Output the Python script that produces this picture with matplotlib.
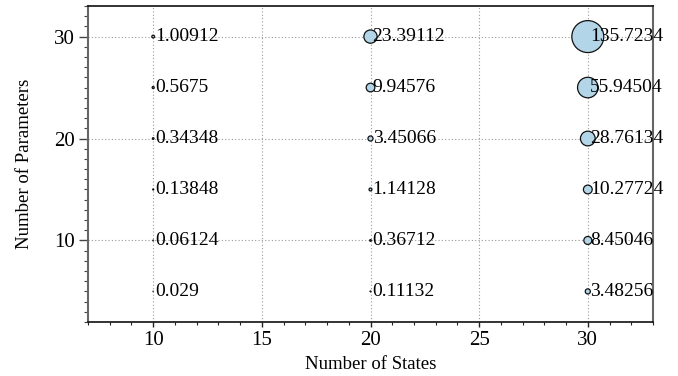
import matplotlib
matplotlib.use("Agg")
import matplotlib.pyplot as plt
from matplotlib.ticker import MultipleLocator

plt.rcParams['font.family'] = ['Liberation Serif', 'DejaVu Serif']

states = [10, 10, 10, 10, 10, 10, 20, 20, 20, 20, 20, 20, 30, 30, 30, 30, 30, 30]
params = [30, 25, 20, 15, 10, 5, 30, 25, 20, 15, 10, 5, 30, 25, 20, 15, 10, 5]
times = [1.00912, 0.5675, 0.34348, 0.13848, 0.06124, 0.029,
         23.39112, 9.94576, 3.45066, 1.14128, 0.36712, 0.11132,
         135.7234, 55.94504, 28.76134, 10.27724, 8.45046, 3.48256]
labels = ["1.00912", "0.5675", "0.34348", "0.13848", "0.06124", "0.029",
          "23.39112", "9.94576", "3.45066", "1.14128", "0.36712", "0.11132",
          "135.7234", "55.94504", "28.76134", "10.27724", "8.45046", "3.48256"]

fig = plt.figure(figsize=(6.78, 3.76), dpi=100)
ax = fig.add_axes([88/678, 1 - 322/376, (653-88)/678, (322-6)/376])

ax.scatter(states, params, s=[t * 3.9 for t in times], color='#b3d5e8',
           edgecolor='#111111', linewidth=0.9, zorder=3)
for x, y, lab in zip(states, params, labels):
    ax.annotate(lab, (x, y), xytext=(1.5, 0), textcoords='offset points',
                ha='left', va='center', fontsize=14, zorder=4)

ax.set_xlim(7, 33)
ax.set_ylim(2, 33)
ax.xaxis.set_major_locator(MultipleLocator(5))
ax.xaxis.set_minor_locator(MultipleLocator(1))
ax.yaxis.set_major_locator(MultipleLocator(10))
ax.yaxis.set_minor_locator(MultipleLocator(1))
ax.grid(True, which='major', linestyle=(0, (1, 2)), color='#999999', linewidth=0.8)
ax.set_axisbelow(True)

ax.tick_params(axis='y', which='major', direction='out', length=6.5, width=1, labelsize=15,
               color='#444444', pad=3)
ax.tick_params(axis='y', which='minor', direction='out', length=3, width=0.8, color='#444444')
ax.tick_params(axis='x', which='major', direction='out', length=3.6, width=1, labelsize=15,
               color='#222222', pad=3)
ax.tick_params(axis='x', which='minor', direction='out', length=2.2, width=0.8, color='#222222')
for side in ['left', 'right']:
    ax.spines[side].set_color('#666666')
    ax.spines[side].set_linewidth(1.5)
for side in ['top', 'bottom']:
    ax.spines[side].set_color('#111111')
    ax.spines[side].set_linewidth(1.2)

ax.set_xlabel('Number of States', fontsize=13.5, labelpad=4)
ax.set_ylabel('Number of Parameters', fontsize=13.5, labelpad=15)

fig.savefig('out.png', dpi=100)
